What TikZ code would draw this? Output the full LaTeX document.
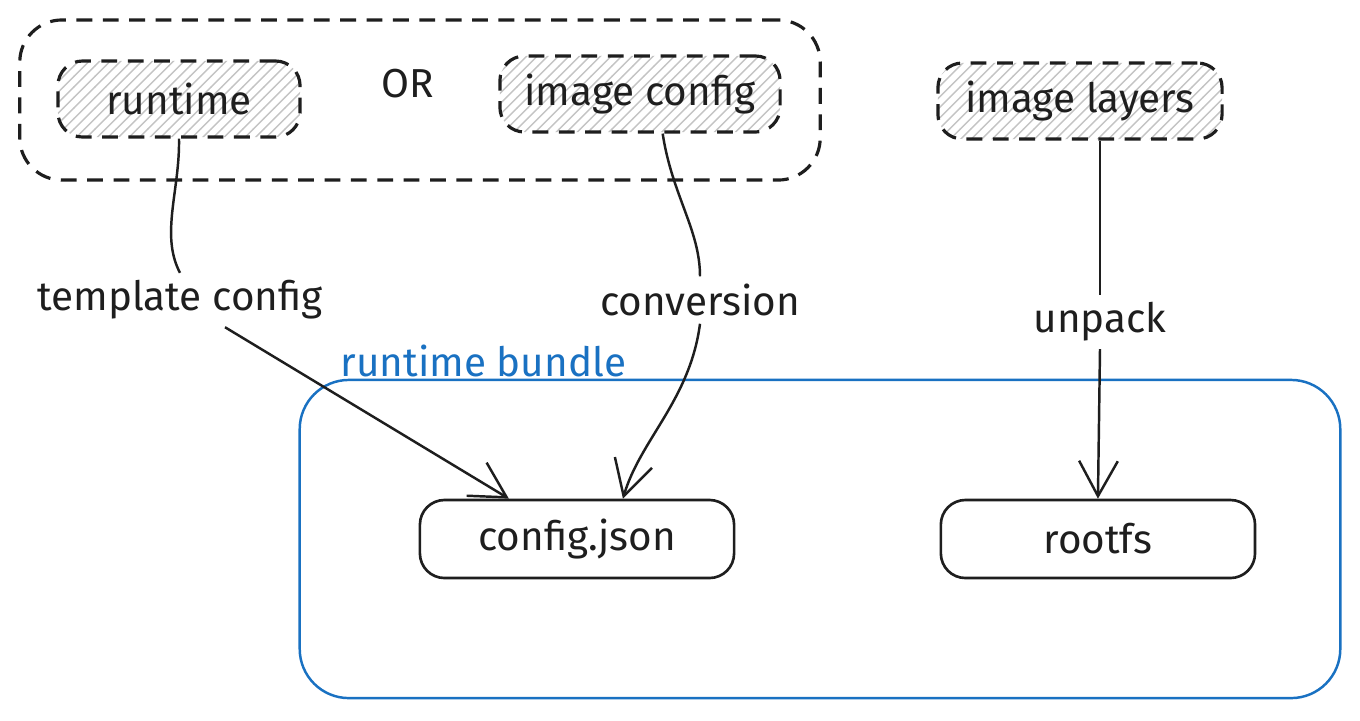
\documentclass[tikz,border=0pt]{standalone}
\usepackage{fontspec}
\setmainfont{Fira Sans}
\usetikzlibrary{arrows.meta,positioning,calc,patterns}
\definecolor{inkblack}{HTML}{1E1E1E}
\definecolor{bundleblue}{HTML}{1971C2}
\definecolor{hatchgray}{HTML}{C4C4C4}
\tikzset{
  source/.style={
    rectangle,
    rounded corners=7pt,
    draw=inkblack,
    dash pattern=on 4.5pt off 3pt,
    pattern=north east lines,
    pattern color=hatchgray,
    line width=0.9pt,
    align=center,
    minimum height=0.76cm,
    font=\fontsize{11.5}{13}\selectfont,
    text=inkblack
  },
  artifact/.style={
    rectangle,
    rounded corners=7pt,
    draw=inkblack,
    line width=0.75pt,
    align=center,
    minimum height=0.78cm,
    minimum width=3.14cm,
    font=\fontsize{11.5}{13}\selectfont,
    text=inkblack
  },
  choice/.style={draw=inkblack, dash pattern=on 4.5pt off 3pt, rounded corners=12pt, line width=0.9pt},
  bundle/.style={draw=bundleblue, rounded corners=14pt, line width=0.7pt},
  caption/.style={font=\fontsize{11.5}{13}\selectfont, text=inkblack, inner sep=2pt},
  link/.style={line width=0.7pt, draw=inkblack},
  arrow/.style={-{Straight Barb[length=10pt,width=11pt]}, line width=0.7pt, draw=inkblack}
}
\begin{document}
\begin{tikzpicture}[x=0.01cm, y=-0.01cm]
  \useasboundingbox[fill=white] (0,0) rectangle (1360,720);

  \node[choice, minimum width=8cm, minimum height=1.6cm] (either) at (420,100) {};
  \node[source, minimum width=2.42cm] (runtime) at (179,99) {runtime};
  \node[caption] (orword) at (408,84) {OR};
  \node[source, minimum width=2.8cm] (imgcfg) at (640,94) {image config};
  \node[source, minimum width=2.84cm] (layers) at (1080,101) {image layers};

  \node[bundle, minimum width=10.4cm, minimum height=3.18cm] (bundle) at (820,539) {};
  \node[caption, text=bundleblue, anchor=south west, inner sep=0pt] (bundlename) at (340,378) {runtime bundle};
  \node[artifact] (cfg) at (577,539) {config.json};
  \node[artifact, right=2.04cm of cfg] (rootfs) {rootfs};

  \node[caption] (tpl) at (180,300) {template config};
  \node[caption] (conv) at (700,300) {conversion};
  \node[caption] (unpack) at (1100,322) {unpack};

  \draw[link] (runtime.south) .. controls (180,190) and (160,235) .. (tpl.north);
  \draw[arrow] (tpl) -- ($(cfg.north)!0.43!(cfg.north west)$);
  \draw[link] ($(imgcfg.south)!0.16!(imgcfg.south east)$) .. controls (672,195) and (700,230) .. (conv.north);
  \draw[arrow] (conv.south) .. controls (690,400) and (640,440) .. ($(cfg.north)!0.29!(cfg.north east)$);
  \draw[link] ($(layers.south)+(20,0)$) -- (unpack.north);
  \draw[arrow] (unpack.south) -- (rootfs.north);
\end{tikzpicture}
\end{document}
